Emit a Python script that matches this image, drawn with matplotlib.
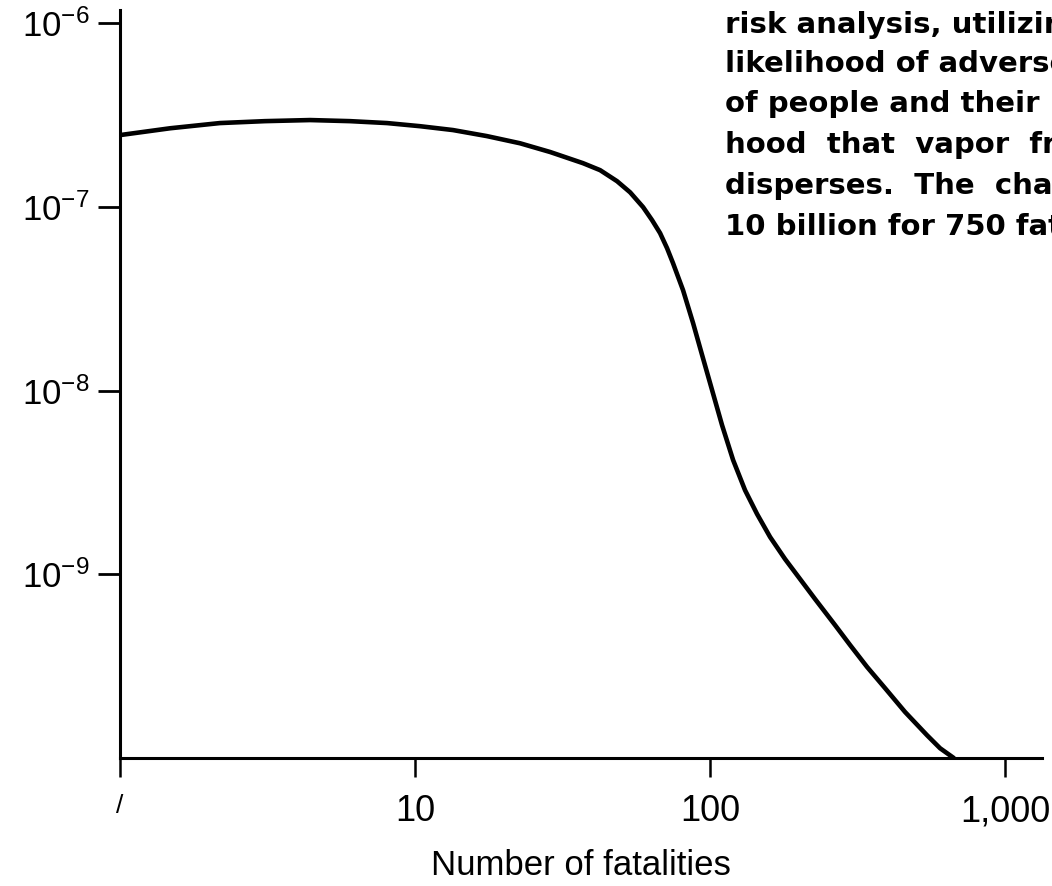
import matplotlib
matplotlib.use("Agg")
import matplotlib.pyplot as plt
from matplotlib.ticker import FixedLocator, NullLocator

plt.rcParams['font.family'] = ['Liberation Sans', 'DejaVu Sans']
plt.rcParams['mathtext.fontset'] = 'custom'
plt.rcParams['mathtext.rm'] = 'Liberation Sans'
plt.rcParams['mathtext.it'] = 'Liberation Sans'
plt.rcParams['mathtext.bf'] = 'Liberation Sans:bold'

# ---- data ----
fatalities = [1.0, 1.48, 2.18, 3.10, 4.41, 6.02, 8.04, 10.4, 13.45, 17.5,
              22.7, 28.7, 37.1, 42.4, 48.4, 53.6, 59.3, 63.6, 67.7, 71.5,
              74.9, 81.0, 87.6, 94.0, 101.6, 109.8, 119.7, 131.4, 144.3,
              159.8, 179.6, 201.9, 227.0, 265.3, 298.3, 340.6, 391.9,
              458.1, 543.9, 602.1, 670.0]
frequency = [2.46e-7, 2.68e-7, 2.86e-7, 2.93e-7, 2.97e-7, 2.93e-7, 2.86e-7,
             2.75e-7, 2.62e-7, 2.43e-7, 2.22e-7, 1.99e-7, 1.73e-7, 1.585e-7,
             1.38e-7, 1.20e-7, 9.97e-8, 8.47e-8, 7.20e-8, 5.96e-8, 4.94e-8,
             3.52e-8, 2.33e-8, 1.56e-8, 1.006e-8, 6.49e-9, 4.19e-9, 2.87e-9,
             2.13e-9, 1.595e-9, 1.21e-9, 9.42e-10, 7.33e-10, 5.29e-10,
             4.12e-10, 3.13e-10, 2.40e-10, 1.78e-10, 1.33e-10, 1.13e-10,
             1.0e-10]

x_ticks = [1, 10, 100, 1000]
x_tick_labels = ['/', '10', '100', '1,000']
y_ticks = [1e-9, 1e-8, 1e-7, 1e-6]
y_tick_labels = [r'$\mathregular{10^{-9}}$', r'$\mathregular{10^{-8}}$',
                 r'$\mathregular{10^{-7}}$', r'$\mathregular{10^{-6}}$']
x_label = 'Number of fatalities'

caption_lines = [
    'risk analysis, utilizing',
    'likelihood of adverse',
    'of people and their',
    'hood  that  vapor  from',
    'disperses.  The  chance',
    '10 billion for 750 fatalities',
]

# ---- figure ----
W, H = 1052, 886
fig = plt.figure(figsize=(W / 100, H / 100), dpi=100)
ax = fig.add_axes([120 / W, 1 - 758 / H, (1042 - 120) / W, (758 - 10) / H])

ax.set_xscale('log')
ax.set_yscale('log')
ax.set_xlim(1.0, 1334)
ax.set_ylim(1e-10, 1.18e-6)

ax.plot(fatalities, frequency, color='black', lw=3.3,
        solid_capstyle='round', solid_joinstyle='round')

for s in ['top', 'right']:
    ax.spines[s].set_visible(False)
for s in ['left', 'bottom']:
    ax.spines[s].set_linewidth(2.2)
    ax.spines[s].set_color('black')

ax.xaxis.set_major_locator(FixedLocator(x_ticks))
ax.xaxis.set_minor_locator(NullLocator())
ax.set_xticklabels(x_tick_labels)
ax.yaxis.set_major_locator(FixedLocator(y_ticks))
ax.yaxis.set_minor_locator(NullLocator())
ax.set_yticklabels(y_tick_labels)

ax.tick_params(axis='y', direction='out', length=16, width=2.0,
               labelsize=25, pad=6, colors='black')
ax.tick_params(axis='x', direction='out', length=14, width=1.8,
               labelsize=26, pad=12, colors='black')
ax.get_xticklabels()[0].set_fontsize(19)

ax.set_xlabel(x_label, fontsize=25, labelpad=14)

# caption text block, clipped by the right edge of the figure
baselines = [33, 72, 112, 153, 194, 235]
for line, yb in zip(caption_lines, baselines):
    fig.text(725 / W, 1 - yb / H, line, fontsize=21, fontweight='bold',
             family='DejaVu Sans', ha='left', va='baseline', color='black')

fig.savefig('out.png', dpi=100)
